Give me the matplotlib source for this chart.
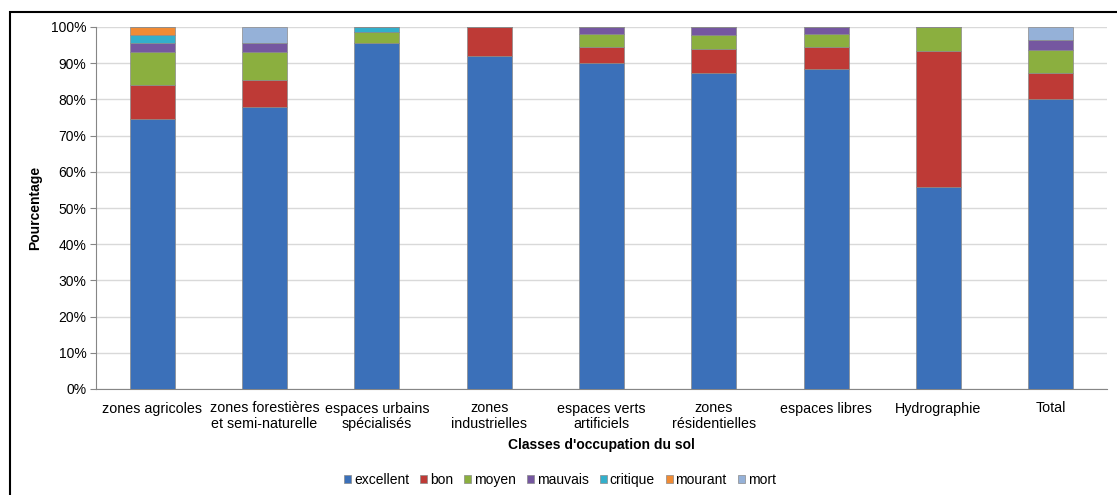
import matplotlib
matplotlib.use("Agg")
import matplotlib.pyplot as plt
import numpy as np
from matplotlib.patches import Rectangle

plt.rcParams['font.family'] = ['Liberation Sans', 'DejaVu Sans']

categories = ["zones agricoles", "zones forestières\net semi-naturelle", "espaces urbains\nspécialisés",
              "zones\nindustrielles", "espaces verts\nartificiels", "zones\nrésidentielles",
              "espaces libres", "Hydrographie", "Total"]
series_names = ["excellent", "bon", "moyen", "mauvais", "critique", "mourant", "mort"]
excellent = [74.6, 78.0, 95.6, 91.9, 90.0, 87.2, 88.5, 55.7, 80.1]
bon       = [9.3, 7.4, 0.0, 8.1, 4.6, 6.8, 5.9, 37.8, 7.1]
moyen     = [9.1, 7.6, 2.9, 0.0, 3.4, 3.7, 3.6, 6.5, 6.5]
mauvais   = [2.6, 2.6, 0.0, 0.0, 2.0, 2.3, 2.0, 0.0, 2.8]
critique  = [2.2, 0.0, 1.5, 0.0, 0.0, 0.0, 0.0, 0.0, 0.0]
mourant   = [2.2, 0.0, 0.0, 0.0, 0.0, 0.0, 0.0, 0.0, 0.0]
mort      = [0.0, 4.4, 0.0, 0.0, 0.0, 0.0, 0.0, 0.0, 3.5]
yticks = [0, 10, 20, 30, 40, 50, 60, 70, 80, 90, 100]

data = [excellent, bon, moyen, mauvais, critique, mourant, mort]
colors = ["#3B70B9", "#BE3A36", "#8BAF3F", "#7557A0", "#33AFCB", "#F08B35", "#95B1D8"]

fig = plt.figure(figsize=(11.17, 4.95), dpi=100)
ax = fig.add_axes([96/1117, 1-389/495, (1107-96)/1117, (389-27)/495])

x = np.arange(len(categories))
bottom = np.zeros(len(categories))
for name, vals, c in zip(series_names, data, colors):
    v = np.array(vals)
    ax.bar(x, v, 0.4, bottom=bottom, color=c, edgecolor="#8a8a8a", linewidth=0.5,
           label=name, zorder=3)
    bottom += v

ax.set_xlim(-0.5, len(categories) - 0.5)
ax.set_ylim(0, 100)
ax.set_yticks(yticks)
ax.set_yticklabels([f"{t}%" for t in yticks], fontsize=10)
ax.set_xticks(x)
ax.set_xticklabels(categories, fontsize=10.3, linespacing=1.12)
ax.tick_params(axis='x', length=0, pad=9)
ax.tick_params(axis='y', length=4, color="#868686", pad=3)
ax.grid(axis='y', color="#D9D9D9", linewidth=1, zorder=0)
for s in ["top", "right"]:
    ax.spines[s].set_visible(False)
ax.spines["left"].set_color("#868686")
ax.spines["bottom"].set_color("#868686")
ax.set_ylabel("Pourcentage", fontsize=10, fontweight="bold", labelpad=6)
ax.set_xlabel("Classes d'occupation du sol", fontsize=10, fontweight="bold", labelpad=5)

leg = fig.legend(loc="center", bbox_to_anchor=(560/1117, 1-480/495), ncol=7, frameon=False,
                 fontsize=10, handlelength=0.5, handleheight=0.5, handletextpad=0.2,
                 columnspacing=0.8)

fig.patches.append(Rectangle((10/1117, -0.05), 1.2, 1 - 11.5/495 + 0.05, transform=fig.transFigure,
                             fill=False, edgecolor="black", linewidth=1.5))

fig.savefig("out.png", dpi=100)
